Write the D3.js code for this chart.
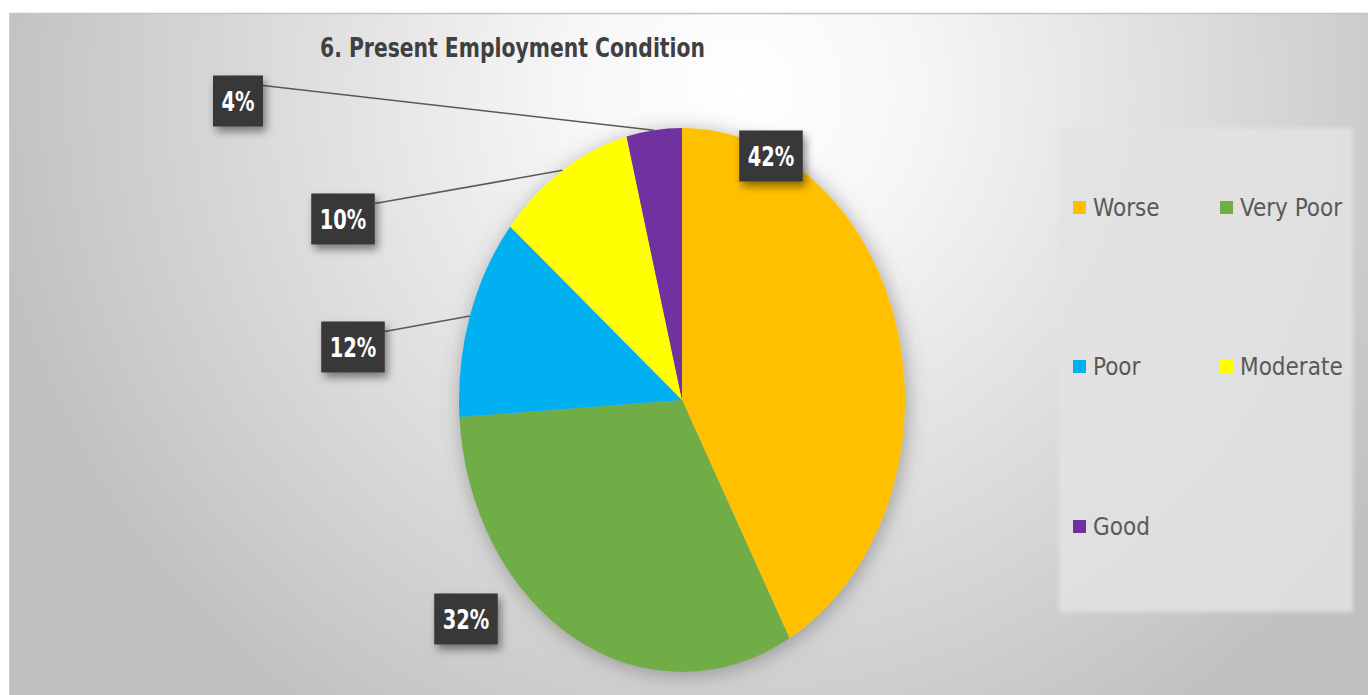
<!DOCTYPE html>
<html>
<head>
<meta charset="utf-8">
<script src="https://cdn.jsdelivr.net/npm/d3@7"></script>
<style>
  html, body { margin: 0; padding: 0; background: #ffffff; }
  svg { display: block; }
  text { font-family: "Liberation Sans Narrow", "DejaVu Sans Condensed", "Roboto", sans-serif; }
</style>
</head>
<body>
<svg id="chart" width="1368" height="695"></svg>
<script>
// Survey answers for "Present Employment Condition"
const categories = ["Worse", "Very Poor", "Poor", "Moderate", "Good"];
const values = [42, 32, 12, 10, 4];
const colors = ["#FFC000", "#70AD47", "#00B0F0", "#FFFF00", "#7030A0"];
const title = "6. Present Employment Condition";

// Layout
const W = 1368, H = 695;
const cx = 682, cy = 400, rx = 223, ry = 272;
// Where each data-label box sits (centre) and whether it has a leader line
const labelLayout = {
  "Worse":     { x: 771, y: 156, leader: false },
  "Very Poor": { x: 466, y: 619, leader: false },
  "Poor":      { x: 353, y: 347, leader: true },
  "Moderate":  { x: 343, y: 219, leader: true },
  "Good":      { x: 238, y: 101, leader: true }
};

const svg = d3.select("#chart");
const defs = svg.append("defs");

const bg = defs.append("radialGradient")
  .attr("id", "bgGrad").attr("gradientUnits", "userSpaceOnUse")
  .attr("cx", 740).attr("cy", 90).attr("r", 760);
[[0, "#ffffff"], [0.22, "#f7f7f7"], [0.55, "#e0e0e0"], [0.85, "#cbcbcb"], [1, "#c0c0c0"]]
  .forEach(([o, c]) => bg.append("stop").attr("offset", o).attr("stop-color", c));

const pieShadow = defs.append("filter").attr("id", "pieShadow")
  .attr("x", "-20%").attr("y", "-20%").attr("width", "140%").attr("height", "140%");
pieShadow.append("feDropShadow").attr("dx", 2).attr("dy", 3)
  .attr("stdDeviation", 10).attr("flood-color", "#555").attr("flood-opacity", 0.5);

const boxShadow = defs.append("filter").attr("id", "boxShadow")
  .attr("x", "-40%").attr("y", "-40%").attr("width", "180%").attr("height", "180%");
boxShadow.append("feDropShadow").attr("dx", 3).attr("dy", 5)
  .attr("stdDeviation", 4).attr("flood-color", "#000").attr("flood-opacity", 0.45);

const softEdge = defs.append("filter").attr("id", "softEdge");
softEdge.append("feGaussianBlur").attr("stdDeviation", 2);

// Chart area background
svg.append("rect").attr("x", 0).attr("y", 0).attr("width", W).attr("height", H).attr("fill", "#ffffff");
svg.append("rect").attr("x", 9).attr("y", 13).attr("width", W - 9).attr("height", H - 13)
  .attr("fill", "url(#bgGrad)");
svg.append("line").attr("x1", 9).attr("x2", W).attr("y1", 13.5).attr("y2", 13.5)
  .attr("stroke", "#c4c4c4").attr("stroke-width", 1.5);
svg.append("line").attr("x1", 9.5).attr("x2", 9.5).attr("y1", 13).attr("y2", H)
  .attr("stroke", "#d0d0d0").attr("stroke-width", 1);

// Title
svg.append("text")
  .attr("x", 320).attr("y", 57)
  .attr("font-size", 26).attr("font-weight", "bold")
  .attr("fill", "#404040")
  .attr("textLength", 385).attr("lengthAdjust", "spacingAndGlyphs")
  .text(title);

// Pie (drawn as a circle of radius rx, stretched vertically into an ellipse)
const data = categories.map((c, i) => ({ name: c, value: values[i], color: colors[i] }));
const pie = d3.pie().sort(null).value(d => d.value);
const arcs = pie(data);
const arc = d3.arc().innerRadius(0).outerRadius(rx);

const pieOuter = svg.append("g").attr("filter", "url(#pieShadow)");
const pieG = pieOuter.append("g")
  .attr("transform", `translate(${cx},${cy}) scale(1,${ry / rx})`);
pieG.selectAll("path").data(arcs).join("path")
  .attr("d", arc)
  .attr("fill", d => d.data.color);

// Point on the ellipse rim at the middle of a slice
const rimMid = d => {
  const a = (d.startAngle + d.endAngle) / 2;
  return [cx + rx * Math.sin(a), cy - ry * Math.cos(a)];
};

// Legend
const legend = svg.append("g");
legend.append("rect").attr("x", 1059).attr("y", 128).attr("width", 294).attr("height", 484)
  .attr("fill", "#e3e3e3").attr("opacity", 0.85).attr("filter", "url(#softEdge)");
const colX = [1073, 1220], textX = [1093, 1240], rowY = [208, 367, 527];
data.forEach((d, i) => {
  const col = i % 2, row = Math.floor(i / 2);
  legend.append("rect")
    .attr("x", colX[col]).attr("y", rowY[row] - 7)
    .attr("width", 13).attr("height", 13)
    .attr("fill", d.color);
  legend.append("text")
    .attr("x", textX[col]).attr("y", rowY[row])
    .attr("dy", "0.35em")
    .attr("font-size", 24).attr("fill", "#595959")
    .text(d.name);
});

// Data labels with leader lines
const labels = svg.append("g");
arcs.forEach(d => {
  const L = labelLayout[d.data.name];
  const t = labels.append("text")
    .attr("x", L.x).attr("y", L.y).attr("dy", "0.36em")
    .attr("text-anchor", "middle")
    .attr("font-size", 27).attr("font-weight", "bold").attr("fill", "#ffffff")
    .text(d.data.value + "%");
  const tw = t.node().getBBox().width * 0.8;
  t.attr("textLength", tw).attr("lengthAdjust", "spacingAndGlyphs");
  const bw = tw + 17, bh = 51;
  const bx = L.x - bw / 2, by = L.y - bh / 2;
  if (L.leader) {
    const [px, py] = rimMid(d);
    labels.insert("line", "text")
      .attr("x1", bx + bw).attr("y1", by + 10)
      .attr("x2", px).attr("y2", py)
      .attr("stroke", "#595959").attr("stroke-width", 1.5);
  }
  labels.insert("rect", "text")
    .attr("x", bx).attr("y", by).attr("width", bw).attr("height", bh)
    .attr("fill", "#383838").attr("filter", "url(#boxShadow)");
  t.raise();
});
</script>
</body>
</html>
